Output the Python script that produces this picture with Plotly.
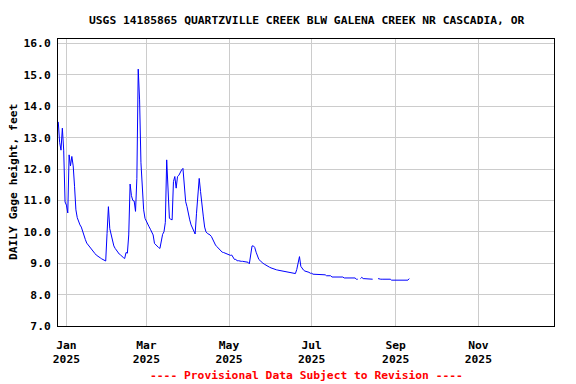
import pandas as pd
import plotly.graph_objects as go

# ---- data (daily gage height, feet), starting 2024-12-26 ----
start_date = "2024-12-26"
gage_ft = [
    13.5, 12.85, 12.6, 13.3, 12.6, 10.95, 10.85, 10.6, 12.45, 12.1,
    12.4, 12.1, 11.45, 10.7, 10.45, 10.3, 10.22, 10.15, 10.0, 9.85,
    9.75, 9.64, 9.58, 9.52, 9.46, 9.41, 9.36, 9.31, 9.26, 9.22,
    9.2, 9.17, 9.14, 9.12, 9.1, 9.07, 9.95, 10.8, 10.1, 9.9,
    9.69, 9.55, 9.47, 9.4, 9.32, 9.29, 9.26, 9.21, 9.18, 9.15,
    9.34, 9.32, 9.9, 11.52, 11.15, 11.0, 10.98, 10.65, 11.7, 15.18,
    14.2, 12.2, 11.2, 10.7, 10.43, 10.32, 10.25, 10.16, 10.08, 10.0,
    9.9, 9.63, 9.58, 9.55, 9.5, 9.47, 9.7, 9.92, 10.0, 10.3,
    12.29, 11.2, 10.43, 10.4, 10.38, 11.6, 11.76, 11.39, 11.76, 11.8,
    11.9, 11.97, 12.02, 11.55, 10.96, 10.8, 10.54, 10.38, 10.22, 10.11,
    10.03, 9.93, 10.59, 11.17, 11.7, 11.28, 10.8, 10.5, 10.15, 10.0,
    9.95, 9.93, 9.9, 9.85, 9.74, 9.63, 9.58, 9.53, 9.48, 9.42,
    9.4, 9.35, 9.34, 9.32, 9.3, 9.27, 9.26, 9.25, 9.26, 9.19,
    9.12, 9.12, 9.08, 9.08, 9.06, 9.06, 9.06, 9.05, 9.05, 9.05,
    9.03, 8.98, 9.3, 9.55, 9.55, 9.5, 9.35, 9.21, 9.12, 9.08,
    9.03, 9.0, 8.97, 8.94, 8.91, 8.89, 8.87, 8.85, 8.83, 8.82,
    8.8, 8.79, 8.78, 8.77, 8.76, 8.75, 8.74, 8.73, 8.72, 8.71,
    8.7, 8.7, 8.69, 8.68, 8.67, 8.67, 8.8, 9.05, 9.21, 8.9,
    8.82, 8.78, 8.75, 8.74, 8.72, 8.71, 8.68, 8.68, 8.65, 8.65,
    8.65, 8.63, 8.63, 8.63, 8.63, 8.63, 8.63, 8.63, 8.6, 8.6,
    8.6, 8.6, 8.56, 8.56, 8.56, 8.56, 8.56, 8.56, 8.56, 8.56,
    8.56, 8.53, 8.53, 8.53, 8.53, 8.53, 8.53, 8.53, 8.53, 8.53,
    8.49, 8.49, None, 8.51, 8.55, 8.51, 8.51, 8.51, 8.49, 8.49,
    8.49, 8.49, 8.49, None, None, None, 8.51, 8.49, 8.49, 8.49,
    8.49, 8.49, 8.49, 8.49, 8.49, 8.49, 8.46, 8.46, 8.46, 8.46,
    8.46, 8.46, 8.46, 8.46, 8.46, 8.46, 8.46, 8.46, 8.46, 8.51,
]
dates = pd.date_range(start_date, periods=len(gage_ft), freq="D")

y_ticks = [7.0, 8.0, 9.0, 10.0, 11.0, 12.0, 13.0, 14.0, 15.0, 16.0]
y_range = [7.0, 16.14]
x_range = ["2024-12-25 19:00", "2025-12-26 20:00"]

title_text = "USGS 14185865 QUARTZVILLE CREEK BLW GALENA CREEK NR CASCADIA, OR"
y_title_text = "DAILY Gage height, feet"
footer_text = "---- Provisional Data Subject to Revision ----"

FONT = "DejaVu Sans Mono"
bold = dict(family=FONT, size=11.3, color="black", weight="bold")

fig = go.Figure(
    go.Scatter(
        x=dates, y=gage_ft, mode="lines",
        line=dict(color="#0000ff", width=1),
        connectgaps=False, hoverinfo="skip",
    )
)

# the page body has an 8px default margin, so the figure is sized to fit
fig.update_layout(
    width=568, height=376,
    margin=dict(l=50, r=22, t=31, b=58),
    paper_bgcolor="white", plot_bgcolor="white",
    showlegend=False,
    font=bold,
)

fig.update_xaxes(
    type="date", range=x_range,
    tick0="2025-01-01", dtick="M2", tickformat="%b<br>%Y",
    showgrid=True, gridcolor="#cccccc", gridwidth=1,
    showline=True, linecolor="black", linewidth=1, mirror=True,
    ticks="", tickfont=bold, zeroline=False, ticklabelstandoff=8,
)
fig.update_yaxes(
    range=y_range, tickvals=y_ticks, tickformat=".1f",
    showgrid=True, gridcolor="#cccccc", gridwidth=1,
    showline=True, linecolor="black", linewidth=1, mirror=True,
    ticks="", tickfont=bold, zeroline=False, ticklabelstandoff=4,
)

fig.add_annotation(
    text=title_text, xref="paper", yref="paper", x=0.5, y=1.066,
    xanchor="center", yanchor="middle", showarrow=False, font=bold,
)
fig.add_annotation(
    text=footer_text, xref="paper", yref="paper", x=0.5, y=-0.171,
    xanchor="center", yanchor="middle", showarrow=False,
    font=dict(family=FONT, size=11.3, color="#ff0000", weight="bold"),
)
fig.add_annotation(
    text=y_title_text, xref="paper", yref="paper", x=-0.0895, y=0.5,
    xanchor="center", yanchor="middle", textangle=-90, showarrow=False,
    font=bold,
)

fig.write_html("out.html")
